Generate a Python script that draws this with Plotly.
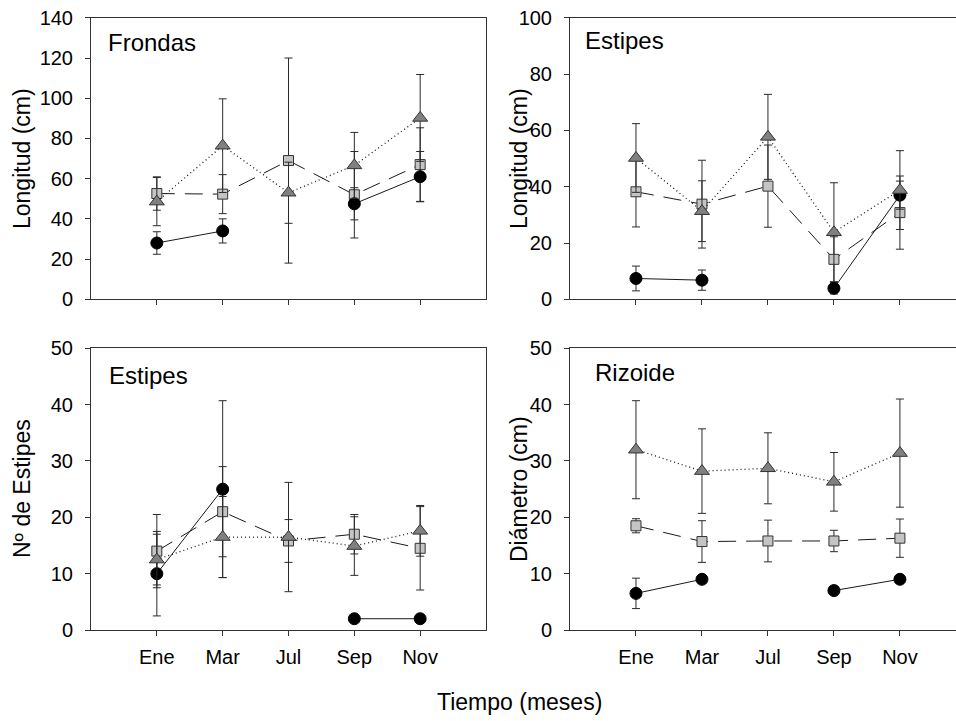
import plotly.graph_objects as go

# Sampling months (x positions 0..4)
meses = ["Ene", "Mar", "Jul", "Sep", "Nov"]
xpos = [0, 1, 2, 3, 4]

# --- Frondas: longitud (cm) ---
frondas_circ = [28.0, 34.0, None, 47.5, 61.0]
frondas_circ_err = [5.6, 6.0, None, 8.0, 12.5]
frondas_cuad = [52.6, 52.3, 69.0, 52.0, 67.0]
frondas_cuad_err = [8.3, 9.7, 51.0, 21.5, 18.3]
frondas_tri = [48.6, 76.4, 53.0, 66.6, 90.2]
frondas_tri_err = [12.0, 23.3, 15.2, 16.4, 21.6]

# --- Estipes: longitud (cm) ---
estl_circ = [7.4, 6.8, None, 3.9, 37.0]
estl_circ_err = [4.4, 3.6, None, 2.0, 5.0]
estl_cuad = [38.2, 33.8, 40.2, 14.2, 30.8]
estl_cuad_err = [12.5, 15.6, 14.6, 8.0, 13.0]
estl_tri = [50.2, 31.3, 57.7, 23.8, 38.8]
estl_tri_err = [12.2, 10.8, 15.1, 17.6, 14.0]

# --- Estipes: numero ---
estn_circ = [10.0, 25.0, None, 2.0, 2.0]
estn_circ_err = [7.5, 15.7, None, 0, 0]
estn_cuad = [14.0, 21.0, 15.8, 17.0, 14.5]
estn_cuad_err = [6.5, 8.0, 3.8, 3.5, 7.4]
estn_tri = [12.5, 16.5, 16.5, 14.9, 17.6]
estn_tri_err = [4.5, 7.2, 9.7, 5.2, 4.5]

# --- Rizoide: diametro (cm) ---
riz_circ = [6.5, 9.0, None, 7.0, 9.0]
riz_circ_err = [2.7, 0, None, 0, 0]
riz_cuad = [18.5, 15.7, 15.8, 15.8, 16.3]
riz_cuad_err = [1.25, 3.7, 3.7, 1.9, 3.4]
riz_tri = [32.0, 28.2, 28.7, 26.3, 31.4]
riz_tri_err = [8.7, 7.5, 6.3, 5.2, 9.6]

FONT = "Liberation Sans, Arial, sans-serif"
INK = "#1a1a1a"

paneles = [
    # (suffix, circle, circle_err, square, square_err, triangle, triangle_err)
    ("", frondas_circ, frondas_circ_err, frondas_cuad, frondas_cuad_err, frondas_tri, frondas_tri_err),
    ("2", estl_circ, estl_circ_err, estl_cuad, estl_cuad_err, estl_tri, estl_tri_err),
    ("3", estn_circ, estn_circ_err, estn_cuad, estn_cuad_err, estn_tri, estn_tri_err),
    ("4", riz_circ, riz_circ_err, riz_cuad, riz_cuad_err, riz_tri, riz_tri_err),
]

fig = go.Figure()


def err(vals):
    return dict(type="data", array=[v if v is not None else 0 for v in vals],
                visible=True, color="#2a2a2a", thickness=1, width=4)


for suf, c, ce, s, se, t, te in paneles:
    xa, ya = "x" + suf, "y" + suf
    # square series, long-dash line
    fig.add_trace(go.Scatter(
        x=xpos, y=s, xaxis=xa, yaxis=ya, mode="lines+markers",
        line=dict(color=INK, width=1, dash="18px,10px"),
        marker=dict(symbol="square", size=10, color="#c4c4c4",
                    line=dict(color="#333333", width=1)),
        error_y=err(se), showlegend=False, cliponaxis=False))
    # circle series, solid line with gaps
    fig.add_trace(go.Scatter(
        x=xpos, y=c, xaxis=xa, yaxis=ya, mode="lines+markers",
        connectgaps=False,
        line=dict(color=INK, width=1),
        marker=dict(symbol="circle", size=12, color="#000000",
                    line=dict(color="#000000", width=1)),
        error_y=err(ce), showlegend=False, cliponaxis=False))
    # triangle series, dotted line
    fig.add_trace(go.Scatter(
        x=xpos, y=t, xaxis=xa, yaxis=ya, mode="lines+markers",
        line=dict(color=INK, width=1.3, dash="1px,3px"),
        marker=dict(symbol="triangle-up", size=13, color="#808080",
                    line=dict(color="#333333", width=1)),
        error_y=err(te), showlegend=False, cliponaxis=False))

W, H = 956, 721
xl = [91 / W, 486 / W]
xr = [570 / W, 1.0]
yt = [1 - 299.3 / H, 1 - 17.8 / H]
yb = [1 - 630 / H, 1 - 348.3 / H]

tickfont = dict(family=FONT, size=20, color="#000000")


def xaxis(domain, anchor, rng, labels):
    return dict(domain=domain, anchor=anchor, range=rng, automargin=False,
                tickmode="array", tickvals=xpos, ticktext=meses,
                showticklabels=labels, ticks="outside", ticklen=5,
                tickcolor="#333333", tickwidth=1,
                showline=True, linecolor="#333333", linewidth=1, mirror=True,
                showgrid=False, zeroline=False, tickfont=tickfont,
                ticklabelstandoff=4, fixedrange=True)


def yaxis(domain, anchor, rng, dtick, mirror):
    return dict(domain=domain, anchor=anchor, range=rng, dtick=dtick,
                automargin=False,
                tick0=0, ticks="outside", ticklen=5, tickcolor="#333333",
                tickwidth=1, showline=True, linecolor="#333333", linewidth=1,
                mirror=mirror, showgrid=False, zeroline=False,
                tickfont=tickfont, ticklabelstandoff=8, fixedrange=True)


fig.update_layout(
    template="none",
    width=W, height=H,
    margin=dict(l=0, r=0, t=0, b=0, pad=0, autoexpand=False),
    paper_bgcolor="white", plot_bgcolor="white",
    font=dict(family=FONT, color="#000000"),
    xaxis=xaxis(xl, "y", [-1, 5], False),
    yaxis=yaxis(yt, "x", [0, 140], 20, True),
    xaxis2=xaxis(xr, "y2", [-1, 4.85], False),
    yaxis2=yaxis(yt, "x2", [0, 100], 20, False),
    xaxis3=xaxis(xl, "y3", [-1, 5], True),
    yaxis3=yaxis(yb, "x3", [0, 50], 10, True),
    xaxis4=xaxis(xr, "y4", [-1, 4.85], True),
    yaxis4=yaxis(yb, "x4", [0, 50], 10, False),
)

titulos = [
    ("Frondas", 106, 43),
    ("Estipes", 583, 41),
    ("Estipes", 107, 375),
    ("Rizoide", 593, 372),
]
for txt, px, py in titulos:
    fig.add_annotation(text=txt, x=px / W, y=1 - py / H, xref="paper", yref="paper",
                       xanchor="left", yanchor="middle", showarrow=False,
                       font=dict(family=FONT, size=24, color="#000000"))

ejes = [
    ("Longitud (cm)", 22, 159),
    ("Longitud (cm)", 519, 159),
    ("Nº de Estipes", 22, 489),
    ("Diámetro (cm)", 519, 489),
]
for txt, px, py in ejes:
    fig.add_annotation(text=txt, x=px / W, y=1 - py / H, xref="paper", yref="paper",
                       xanchor="center", yanchor="middle", textangle=-90,
                       showarrow=False,
                       font=dict(family=FONT, size=23, color="#000000"))

fig.add_annotation(text="Tiempo (meses)", x=519 / W, y=1 - 702 / H,
                   xref="paper", yref="paper", xanchor="center", yanchor="middle",
                   showarrow=False, font=dict(family=FONT, size=23, color="#000000"))

fig.write_html("out.html")
